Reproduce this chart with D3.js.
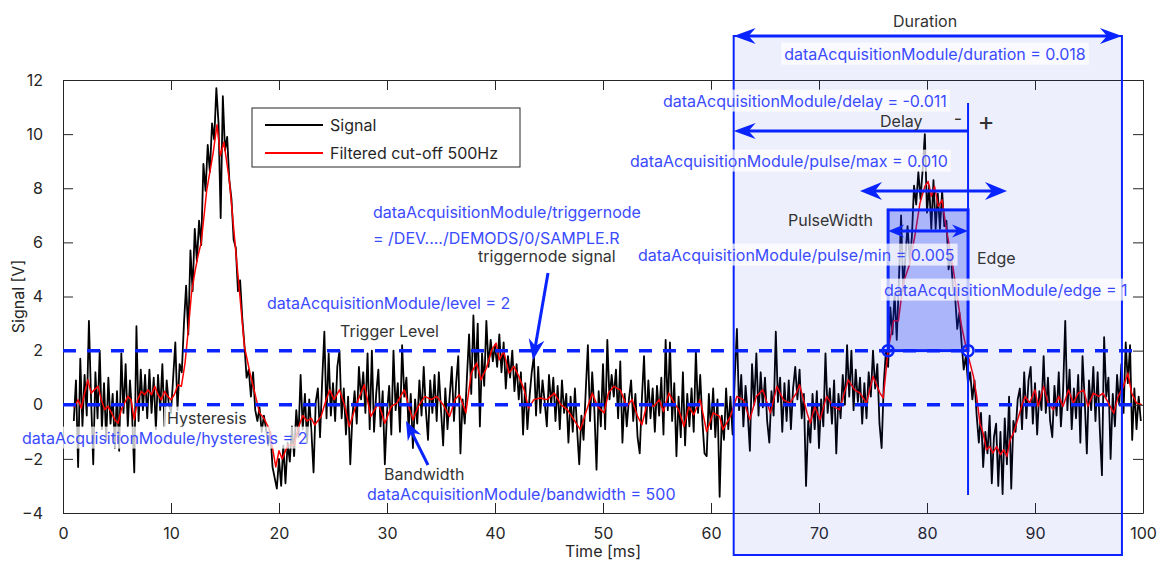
<!DOCTYPE html>
<html>
<head>
<meta charset="utf-8">
<script src="https://cdn.jsdelivr.net/npm/d3@7"></script>
<style>
  body { margin: 0; background: #fff; }
  svg text { font-family: Inter, "Noto Sans", sans-serif; }
</style>
</head>
<body>
<script>
"use strict";

// sampled signal, 0.2 ms step starting at 1.0 ms
const sampleStart = 1.0;
const sampleStep = 0.2;

const sig01to10 = [-0.6,0.9,-2.3,1.7,-0.8,1.1,-0.4,3.1,0.2,-2.2,
  1.2,-0.5,2.0,-0.9,0.8,-1.3,1.0,-0.7,0.4,-1.6,
  0.5,-1.7,1.9,-0.3,1.5,-0.8,0.9,-0.4,-2.5,2.9,
  -0.6,1.3,-0.2,1.1,-0.5,1.3,-0.3,1.0,-0.9,1.1,
  -0.2,1.5,-0.8,0.9,0.0,-0.3,1.0,2.3,-0.2,1.5];
const sig11to20 = [1.2,3.0,4.4,2.6,5.7,4.2,6.5,5.3,6.8,5.9,
  8.9,7.9,9.6,8.6,10.4,9.8,11.7,10.4,6.9,11.4,
  9.4,9.9,8.3,7.6,6.1,5.8,4.2,4.6,3.2,2.2,
  1.0,1.3,0.3,1.2,-0.2,-0.6,-0.1,-1.0,-0.4,-0.9,
  -1.5,-1.0,-2.3,-2.7,-3.1,-2.0,-3.0,-1.5,-2.9,-1.4];
const sig21to30 = [-2.1,-0.8,-1.9,-0.2,-1.2,1.1,-0.9,0.4,-1.4,0.2,
  -1.0,-2.5,0.1,0.6,-1.2,0.9,2.7,-0.5,1.9,-0.4,
  0.8,-0.6,1.4,2.0,-0.5,0.6,-1.1,0.3,-2.2,-0.4,
  0.5,-0.7,1.4,0.2,1.2,-0.3,1.9,-0.9,2.0,-1.0,
  0.4,1.3,-0.8,0.5,-2.2,-0.3,0.7,-1.1,2.0,-0.2];
const sig31to40 = [0.8,-1.0,2.2,0.3,1.0,-0.9,0.4,-1.6,0.2,-0.7,
  0.9,-0.4,1.4,-0.2,-1.3,0.9,-0.3,1.1,-0.6,1.2,
  -0.2,-1.5,0.6,-0.9,0.3,1.4,-0.6,0.8,1.8,-1.8,
  0.2,-0.7,1.0,2.6,0.4,3.3,1.0,3.0,-0.8,1.9,
  0.7,3.1,1.4,2.4,1.6,2.2,1.4,2.6,1.2,2.3];
const sig41to50 = [0.6,1.8,1.0,2.0,0.5,1.5,0.2,1.2,-1.1,0.8,
  -0.9,0.3,1.2,1.8,-0.4,1.4,-0.3,0.9,0.1,-0.8,
  1.1,0.0,1.0,-0.6,0.7,-0.9,0.9,-0.3,0.4,-1.4,
  0.3,-1.0,0.6,-0.9,-2.2,-0.4,-1.3,0.5,2.2,-0.6,
  1.2,-0.2,-2.4,0.5,-0.8,1.5,-0.9,2.4,0.2,1.1];
const sig51to60 = [0.3,1.3,-0.5,1.6,-1.4,0.4,-0.8,0.2,0.9,-0.6,
  0.4,-1.2,-1.8,0.2,1.8,-0.7,0.9,-0.5,0.6,-1.0,
  0.7,-0.4,1.0,-1.1,2.4,-0.2,2.3,-0.6,0.8,-1.9,
  0.3,-1.2,1.2,-1.5,0.4,-0.8,0.6,-1.0,2.0,-0.3,
  1.1,-0.6,-1.8,-1.9,0.4,-0.9,0.6,-1.2,0.2,-3.4];
const sig61to70 = [-0.4,-1.3,0.6,-0.9,0.3,-1.1,1.0,2.8,-0.2,1.1,
  -0.8,0.7,-0.3,-1.7,1.5,0.0,1.9,-0.4,1.2,-0.1,
  1.0,-0.6,-1.4,0.5,-0.4,2.7,0.1,1.0,-1.0,0.8,
  -0.6,0.9,-0.9,0.6,1.4,0.2,1.3,-0.5,0.4,-3.0,
  -0.6,-1.4,0.4,-0.9,0.5,-1.6,0.2,-0.8,1.9,-0.3];
const sig71to80 = [0.6,-0.7,0.9,-1.8,0.4,-0.5,1.1,0.0,2.2,0.3,
  2.0,-0.2,1.3,0.1,1.0,-0.7,0.8,-0.5,1.2,0.3,
  2.0,0.6,1.5,-0.7,-1.6,0.8,2.0,1.4,3.6,2.6,
  4.1,2.4,4.6,7.0,4.2,5.5,6.6,5.3,6.2,8.1,
  7.4,8.6,7.6,8.7,10.0,7.1,8.1,6.5,8.3,6.5];
const sig81to90 = [7.8,6.5,7.9,6.6,6.8,5.0,5.6,4.3,4.0,2.8,
  3.4,2.3,1.3,1.8,0.8,1.2,0.2,0.9,-0.4,-1.4,
  -0.3,-2.3,-1.0,-1.8,-0.4,-2.9,-1.2,-0.7,-3.0,-1.0,
  -3.3,-0.5,-2.2,0.3,-3.1,-0.6,-1.0,0.2,0.6,-0.9,
  1.2,-0.5,0.9,1.4,-0.7,0.8,-1.1,0.5,-0.2,1.8];
const sig91to100 = [-0.3,1.0,-0.6,-1.2,0.7,-0.4,1.2,-0.8,0.5,3.1,
  -0.2,1.3,-0.9,0.6,-0.5,1.1,-1.4,1.8,0.2,-1.8,
  0.9,-0.2,1.4,-0.6,1.2,-0.9,-2.6,2.5,0.3,1.0,
  -2.0,0.4,-0.8,1.1,0.0,1.5,-0.3,2.3,0.8,2.2,
  -1.3,0.6,-0.9,0.3,-0.6];

// filtered (500 Hz cut-off) curve, read as time / value pairs
const filteredTime = [1.0,1.4,1.7,2.0,2.3,2.6,2.9,3.25,3.55,3.86,4.17,4.5,4.8,5.1,5.4,5.7,6.0,6.3,6.6,6.9,
  7.25,7.56,7.87,8.2,8.5,8.8,9.1,9.4,9.7,10.0,10.3,10.65,10.96,11.3,11.6,11.9,12.2,12.5,12.8,13.3,
  13.9,14.26,14.57,14.9,15.4,15.9,16.36,16.8,17.3,17.6,18.2,18.6,19.1,19.7,20.0,20.3,20.8,21.4,21.75,22.2,
  22.6,23.0,23.3,23.9,24.3,24.7,25.1,25.6,26.1,26.5,27.2,27.9,28.5,29.2,29.8,30.4,30.9,31.6,32.1,32.4,
  32.9,33.5,34.1,34.6,35.2,35.8,36.3,36.7,37.3,37.8,38.3,38.7,39.2,39.7,40.1,40.4,40.8,41.3,41.75,42.2,
  42.7,43.1,43.6,44.2,44.8,45.5,46.1,46.7,47.3,47.9,48.5,49.0,49.5,50.1,50.5,51.0,51.6,52.2,52.7,53.2,
  53.6,54.1,54.7,55.2,55.6,56.1,56.6,57.0,57.5,57.95,58.4,59.0,59.6,60.2,60.8,61.1,61.8,62.4,63.0,63.6,
  64.2,64.8,65.5,66.1,66.7,67.3,67.9,68.2,68.9,69.2,69.6,70.1,70.7,71.3,71.9,72.7,73.3,73.8,74.4,75.0,
  75.65,75.95,76.4,76.9,77.35,77.8,78.4,78.9,79.35,79.8,80.1,80.4,80.7,81.05,81.4,81.8,82.3,82.75,83.2,83.67,
  84.3,84.6,84.9,85.2,85.5,85.8,86.1,86.45,86.8,87.1,87.4,87.7,88.0,88.3,88.8,89.1,89.5,90.0,90.3,90.8,
  91.2,91.7,92.2,92.6,93.1,93.55,94.0,94.5,94.9,95.4,95.9,96.3,96.8,97.3,97.7,98.2,98.6,98.95,99.4,99.9];
const filteredValue = [-0.1,0.18,-0.13,0.43,0.92,0.43,0.55,0.68,0.18,-0.18,-0.06,-0.31,-0.55,-0.68,-0.18,0.06,0.31,0.18,-0.55,0.18,
  0.49,0.37,0.55,0.37,0.68,0.37,0.18,0.49,0.31,0.18,0.37,0.74,0.68,1.54,2.77,4.13,4.87,5.5,6.0,7.9,
  9.3,10.35,9.2,9.7,8.3,6.1,4.1,2.15,1.2,0.7,-0.3,-0.5,-0.9,-2.3,-1.7,-2.0,-1.5,-1.5,-0.9,-0.4,
  -0.6,-0.5,-0.75,-0.43,0.1,0.55,0.19,0.55,-0.06,-0.8,0.06,0.74,-0.43,0.06,-0.68,-0.06,0.06,0.55,-0.18,-0.55,
  -0.06,0.31,0.19,0.31,0.0,-0.43,0.19,0.37,-0.3,1.17,1.54,0.92,1.35,2.03,2.28,1.66,1.97,1.17,1.42,1.05,
  0.55,-0.12,0.19,0.25,0.19,0.43,0.0,-0.18,-0.55,-0.92,-0.18,0.43,-0.06,-0.3,0.43,0.68,0.55,-0.06,0.19,-0.43,
  -0.74,0.06,-0.06,0.19,-0.25,0.43,0.06,-0.18,-0.8,-0.06,-0.37,0.19,-1.0,-0.3,-0.43,-0.92,-0.43,0.31,0.18,-0.55,
  0.31,0.55,-0.31,0.68,0.18,0.06,0.43,0.74,-0.31,-0.68,-0.06,-0.55,0.31,-0.06,-0.18,0.92,0.55,0.43,0.06,1.05,
  0.43,0.25,2.03,3.1,3.1,4.5,5.2,6.3,7.45,8.07,8.25,7.7,8.07,7.33,7.57,6.46,5.36,4.13,2.9,2.03,
  1.05,0.31,-0.68,-1.05,-1.66,-1.54,-1.79,-1.54,-1.85,-1.66,-1.91,-1.29,-1.05,-0.68,0.0,0.31,0.06,0.55,-0.06,0.68,
  0.06,-0.18,0.31,-0.06,0.55,0.06,0.43,0.55,-0.06,0.43,0.31,0.43,0.06,-0.31,0.31,0.68,1.17,0.43,0.06,0.0];

const xTicks = [0, 10, 20, 30, 40, 50, 60, 70, 80, 90, 100];
const yTicks = [-4, -2, 0, 2, 4, 6, 8, 10, 12];
const legendLabels = ["Signal", "Filtered cut-off 500Hz"];

// trigger settings shown in the annotations (ms / V)
const triggerLevel = 2;
const hysteresisLevel = 0;
const levelLineEnd = 99.3;
const pulseStart = 76.4;
const pulseEnd = 83.8;
const pulseTop = 7.2;
const durationStart = 62.1;
const durationEnd = 98.05;

const w = 1171;
const h = 561;
const blue = "#0a24ff";
const textBlue = "#3a4bff";
const textDark = "#333";
const axisColor = "#262626";

const svg = d3.select("body").append("svg").attr("width", w).attr("height", h);

const x = d3.scaleLinear().domain([0, 100]).range([63, 1143]);
const y = d3.scaleLinear().domain([-4, 12]).range([513, 80]);

const signal = [].concat(sig01to10, sig11to20, sig21to30, sig31to40, sig41to50,
  sig51to60, sig61to70, sig71to80, sig81to90, sig91to100)
  .map((v, i) => ({ t: sampleStart + i * sampleStep, v: v }));
const filtered = filteredTime.map((t, i) => ({ t: t, v: filteredValue[i] }));

const line = d3.line().x((d) => x(d.t)).y((d) => y(d.v));

//signal traces
svg.append("path").datum(signal).attr("d", line)
  .attr("fill", "none").attr("stroke", "#000").attr("stroke-width", 1.8).attr("stroke-linejoin", "round");
svg.append("path").datum(filtered).attr("d", line)
  .attr("fill", "none").attr("stroke", "#ff0000").attr("stroke-width", 1.5).attr("stroke-linejoin", "round");

//axes, ticks pointing inward on all four sides
const styleAxis = (g) => {
  g.select(".domain").attr("stroke", axisColor);
  g.selectAll(".tick line").attr("stroke", axisColor);
  g.selectAll(".tick text").attr("fill", axisColor).style("font-size", "16px");
};
svg.append("g").attr("transform", `translate(0,${y(-4)})`)
  .call(d3.axisBottom(x).tickValues(xTicks).tickSize(-10).tickSizeOuter(0))
  .call(styleAxis)
  .call((g) => g.selectAll(".tick text").attr("y", 20).attr("dy", "0.35em"));
svg.append("g").attr("transform", `translate(0,${y(12)})`)
  .call(d3.axisTop(x).tickValues(xTicks).tickSize(-10).tickSizeOuter(0).tickFormat(""))
  .call(styleAxis);
svg.append("g").attr("transform", `translate(${x(0)},0)`)
  .call(d3.axisLeft(y).tickValues(yTicks).tickSize(-10).tickSizeOuter(0))
  .call(styleAxis)
  .call((g) => g.selectAll(".tick text").attr("x", -20));
svg.append("g").attr("transform", `translate(${x(100)},0)`)
  .call(d3.axisRight(y).tickValues(yTicks).tickSize(-10).tickSizeOuter(0).tickFormat(""))
  .call(styleAxis);

svg.append("text").attr("x", (x(0) + x(100)) / 2).attr("y", 551).attr("dy", "0.35em")
  .attr("text-anchor", "middle").attr("fill", axisColor).style("font-size", "16px").text("Time [ms]");
svg.append("text").attr("transform", `translate(18,${(y(-4) + y(12)) / 2}) rotate(-90)`)
  .attr("dy", "0.35em").attr("text-anchor", "middle").attr("fill", axisColor)
  .style("font-size", "16px").text("Signal [V]");

//legend
const legend = svg.append("g");
legend.append("rect").attr("x", 252).attr("y", 108).attr("width", 268).attr("height", 59)
  .attr("fill", "#fff").attr("stroke", axisColor).attr("stroke-width", 1);
legendLabels.forEach((lab, i) => {
  const ly = 125 + i * 28;
  legend.append("line").attr("x1", 265).attr("x2", 323).attr("y1", ly).attr("y2", ly)
    .attr("stroke", i === 0 ? "#000" : "#ff0000").attr("stroke-width", 1.8);
  legend.append("text").attr("x", 330).attr("y", ly).attr("dy", "0.35em")
    .attr("fill", axisColor).style("font-size", "16px").text(lab);
});

//trigger level and hysteresis lines
[triggerLevel, hysteresisLevel].forEach((lv) => {
  svg.append("line").attr("x1", x(0)).attr("x2", x(levelLineEnd)).attr("y1", y(lv)).attr("y2", y(lv))
    .attr("stroke", blue).attr("stroke-width", 3.5).attr("stroke-dasharray", "13,11");
});

//arrow helpers
const head = (tx, ty, angle, len, hw) => {
  const pts = [[0, 0], [-len, -hw], [-len * 0.68, 0], [-len, hw]].map(([px, py]) => [
    tx + px * Math.cos(angle) - py * Math.sin(angle),
    ty + px * Math.sin(angle) + py * Math.cos(angle)
  ]);
  svg.append("path").attr("d", "M" + pts.join("L") + "Z").attr("fill", blue);
};
const arrow = (x1, y1, x2, y2, len, hw, both, width) => {
  const a = Math.atan2(y2 - y1, x2 - x1);
  const sx = both ? x1 + Math.cos(a) * len * 0.6 : x1;
  const sy = both ? y1 + Math.sin(a) * len * 0.6 : y1;
  svg.append("line").attr("x1", sx).attr("y1", sy)
    .attr("x2", x2 - Math.cos(a) * len * 0.6).attr("y2", y2 - Math.sin(a) * len * 0.6)
    .attr("stroke", blue).attr("stroke-width", width);
  head(x2, y2, a, len, hw);
  if (both) head(x1, y1, a + Math.PI, len, hw);
};

//duration window
svg.append("rect").attr("x", x(durationStart)).attr("y", 36)
  .attr("width", x(durationEnd) - x(durationStart)).attr("height", 555 - 36)
  .attr("fill", "rgba(20,40,230,0.075)").attr("stroke", blue).attr("stroke-width", 2);
arrow(x(durationStart), 36, x(durationEnd), 36, 22, 8, true, 3);

//pulse width box
svg.append("rect").attr("x", x(pulseStart)).attr("y", y(pulseTop))
  .attr("width", x(pulseEnd) - x(pulseStart)).attr("height", y(triggerLevel) - y(pulseTop))
  .attr("fill", "rgba(20,45,245,0.3)").attr("stroke", blue).attr("stroke-width", 3);
arrow(x(pulseStart), 231, x(pulseEnd), 231, 16, 6.5, true, 3);
arrow(860, 191, 1007, 191, 22, 9, true, 3);

//delay
svg.append("line").attr("x1", x(pulseEnd)).attr("x2", x(pulseEnd)).attr("y1", 103).attr("y2", 495)
  .attr("stroke", blue).attr("stroke-width", 2);
arrow(x(pulseEnd), 131, x(durationStart), 131, 22, 8, false, 3);

//edge crossings
[pulseStart, pulseEnd].forEach((t) => {
  svg.append("circle").attr("cx", x(t)).attr("cy", y(triggerLevel)).attr("r", 5.5)
    .attr("fill", "none").attr("stroke", blue).attr("stroke-width", 2.5);
});

//pointer arrows
arrow(548, 273, 533, 360, 21, 8, false, 3);
arrow(428, 465, 406, 421, 19, 7.5, false, 3);

//labels
const label = (lx, ly, str, color, opts = {}) => {
  const t = svg.append("text").attr("x", lx).attr("y", ly).attr("dy", "0.35em")
    .attr("text-anchor", opts.anchor || "start").attr("fill", color)
    .style("font-size", (opts.size || 16) + "px").text(str);
  if (opts.bg) {
    const b = t.node().getBBox();
    svg.insert("rect", () => t.node()).attr("x", b.x - 3).attr("y", b.y - 1)
      .attr("width", b.width + 6).attr("height", b.height + 2)
      .attr("fill", "#fff").attr("fill-opacity", 0.75);
  }
  return t;
};

label(925, 21, "Duration", textDark, { anchor: "middle" });
label(935, 54, "dataAcquisitionModule/duration = 0.018", textBlue, { anchor: "middle", bg: true });
label(663, 101, "dataAcquisitionModule/delay = -0.011", textBlue, { bg: true });
label(880, 121, "Delay", textDark);
label(958, 119, "-", textDark, { anchor: "middle", size: 18 });
label(986, 121, "+", textDark, { anchor: "middle", size: 26 });
label(630, 161, "dataAcquisitionModule/pulse/max = 0.010", textBlue, { bg: true });
label(788, 220, "PulseWidth", textDark);
label(638, 255, "dataAcquisitionModule/pulse/min = 0.005", textBlue, { bg: true });
label(977, 258, "Edge", textDark);
label(884, 290, "dataAcquisitionModule/edge = 1", textBlue, { bg: true });
label(373, 212, "dataAcquisitionModule/triggernode", textBlue);
label(373, 238, "= /DEV..../DEMODS/0/SAMPLE.R", textBlue);
label(478, 256, "triggernode signal", textDark);
label(267, 303, "dataAcquisitionModule/level = 2", textBlue);
label(340, 331, "Trigger Level", textDark);
label(167, 418, "Hysteresis", textDark, { bg: true });
label(22, 438, "dataAcquisitionModule/hysteresis = 2", textBlue, { bg: true });
label(384, 474, "Bandwidth", textDark);
label(367, 494, "dataAcquisitionModule/bandwidth = 500", textBlue);
</script>
</body>
</html>
